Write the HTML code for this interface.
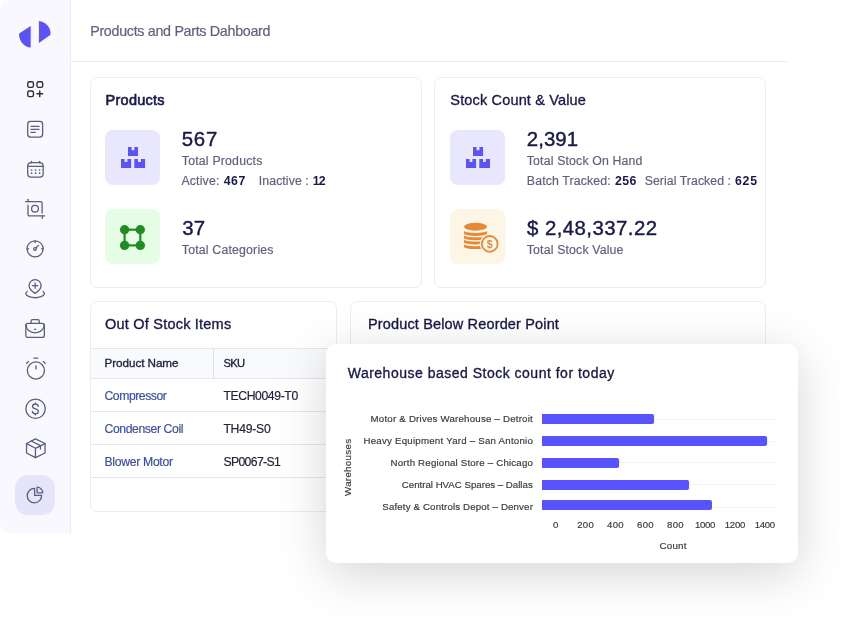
<!DOCTYPE html>
<html lang="en"><head><meta charset="utf-8"><title>Products and Parts Dashboard</title>
<style>
*{box-sizing:border-box;margin:0;padding:0}
html,body{width:862px;height:631px;background:#fff;overflow:hidden}
body{position:relative;font-family:'Liberation Sans',sans-serif}
#root{position:absolute;left:0;top:0;width:862px;height:631px;overflow:hidden;will-change:transform;background:#fff}
.t{position:absolute;white-space:pre;display:block}
.abs{position:absolute}
#side{left:0;top:0;width:71px;height:533px;background:#f9f8ff;border-right:1px solid #ececf1;border-radius:10px 0 0 9px}
#hline{left:71px;top:61px;width:716px;height:1px;background:#ebebee}
.card{border:1px solid #ededef;border-radius:7px;background:#fff}
.ib{border-radius:8px;width:55px;height:55px}
.row{left:91px;width:246px;height:1px;background:#e6e7ea}
#popup{left:326px;top:344px;width:472px;height:219px;background:#fff;border-radius:10px;box-shadow:0 11px 50px 0 rgba(0,0,0,.17)}
.bar{position:absolute;left:216px;height:10px;background:#5853fc;border-radius:0 2px 2px 0}
.gl{position:absolute;left:216px;width:234px;height:1px;background:#f4f4f1}
svg{position:absolute;overflow:visible}
</style></head><body>
<div id="root">
<div id="side" class="abs"></div>
<svg style="left:0;top:0" width="70" height="60" viewBox="0 0 70 60"><path d="M30.700 26.100V47.600A13 13 0 0 1 19.100 33.600z" fill="#5b52f8"/><path d="M38.900 20.900A13 13 0 0 1 50.500 34.800L38.900 42.900z" fill="#5b52f8"/></svg>
<div class="abs" style="left:15px;top:475px;width:40px;height:40px;border-radius:13px;background:#e5e5f9"></div>
<svg style="left:23px;top:78px" width="24" height="24" viewBox="0 0 24 24" fill="none" stroke="#2b2b33" stroke-width="1.4" stroke-linecap="round" stroke-linejoin="round"><rect x="4.75" y="3.8" width="5.7" height="5.6" rx="1.7"/><rect x="14" y="3.8" width="5.7" height="5.6" rx="1.7"/><rect x="4.75" y="13" width="5.7" height="5.6" rx="1.7"/><path d="M16.75 13v5.650M13.900 15.800h5.700"/></svg><svg style="left:23px;top:118px" width="24" height="24" viewBox="0 0 24 24" fill="none" stroke="#5a5e7e" stroke-width="1.3" stroke-linecap="round" stroke-linejoin="round"><rect x="4.7" y="3.45" width="14.9" height="15.7" rx="2.8"/><path d="M8 8.300h8.100M8 11.300h8.100M8 14.400h4.300"/></svg><svg style="left:23px;top:158px" width="24" height="24" viewBox="0 0 24 24" fill="none" stroke="#5a5e7e" stroke-width="1.3" stroke-linecap="round" stroke-linejoin="round"><rect x="4.7" y="4.55" width="15.45" height="14.5" rx="3.4"/><path d="M4.700 8.400h15.450M8.500 3.300v1.500M16.600 3.300v1.500"/><path d="M8.600 12h.01M12.600 12h.01M16.600 12h.01M8.600 15.200h.01M12.600 15.200h.01M16.600 15.200h.01" stroke-width="1.7"/></svg><svg style="left:23px;top:194px" width="24" height="24" viewBox="0 0 24 24" fill="none" stroke="#5a5e7e" stroke-width="1.3" stroke-linecap="round" stroke-linejoin="round"><path d="M2.600 7.600H17.600a1.500 1.500 0 0 1 1.500 1.500V19"/><path d="M5 5.300V7.600"/><path d="M5 11.200V20.400a1.500 1.500 0 0 0 1.500 1.500H21.600"/><path d="M19.250 21.900V24.300"/><circle cx="12" cy="14.800" r="3.400"/></svg><svg style="left:23px;top:237px" width="24" height="24" viewBox="0 0 24 24" fill="none" stroke="#5a5e7e" stroke-width="1.3" stroke-linecap="round" stroke-linejoin="round"><circle cx="12.100" cy="11.850" r="8.050"/><circle cx="12" cy="12" r="1.350"/><path d="M13.100 10.800l2.400-2.400M4 11.900h1.600M18.600 11.900h1.600M12.100 3.900v1.600"/></svg><svg style="left:23px;top:274px" width="24" height="24" viewBox="0 0 24 24" fill="none" stroke="#5a5e7e" stroke-width="1.3" stroke-linecap="round" stroke-linejoin="round"><path d="M12.100 19.400c-3.600-2.400-6-4.700-6-7.750a6 6 0 0 1 12 0c0 3.050-2.400 5.350-6 7.750z"/><path d="M9.400 11.650h5.400M12.100 8.950v5.400"/><path d="M4.100 17.400A9.300 4.100 0 1 0 20.100 17.400"/></svg><svg style="left:23px;top:314px" width="24" height="24" viewBox="0 0 24 24" fill="none" stroke="#5a5e7e" stroke-width="1.3" stroke-linecap="round" stroke-linejoin="round"><rect x="2.850" y="9.450" width="18.500" height="13.900" rx="2.200"/><path d="M8.050 9.450V7.150a1.500 1.500 0 0 1 1.500-1.500h5.200a1.500 1.500 0 0 1 1.500 1.500V9.450"/><path d="M3 10.800C3 15.500 7 18.900 12.100 18.900S21.200 15.500 21.200 10.800"/><path d="M11.500 15.450h1.200"/></svg><svg style="left:23px;top:354px" width="24" height="24" viewBox="0 0 24 24" fill="none" stroke="#5a5e7e" stroke-width="1.3" stroke-linecap="round" stroke-linejoin="round"><circle cx="12.900" cy="16.500" r="8.550"/><path d="M12.900 11.800v3.300M10.900 4.200h3.800M3.600 9.300l2-1.900M20.200 7.400l2 1.900"/></svg><svg style="left:23px;top:394px" width="24" height="24" viewBox="0 0 24 24" fill="none" stroke="#5a5e7e" stroke-width="1.3" stroke-linecap="round" stroke-linejoin="round"><circle cx="12.550" cy="14.750" r="9.700"/><path d="M15.300 12.300c-.3-1.500-1.500-2.300-2.850-2.300-1.700 0-2.900.9-2.900 2.400 0 1.400 1.100 2 2.900 2.400 1.900.4 2.900 1.100 2.900 2.600 0 1.500-1.300 2.400-2.900 2.400-1.600 0-2.800-.8-3.100-2.300M12.450 8.900v1.100M12.450 19.800v1.100"/></svg><svg style="left:23px;top:434px" width="24" height="24" viewBox="0 0 24 24" fill="none" stroke="#5a5e7e" stroke-width="1.3" stroke-linecap="round" stroke-linejoin="round"><path d="M12.450 4.950L22.050 9.500V19L12.450 23.600 3.550 19V9.500z"/><path d="M3.700 9.600l8.750 4.700 9.450-4.700M12.450 14.300v9.200M8.200 7l9.250 4.700V15"/></svg><svg style="left:23px;top:483px" width="24" height="24" viewBox="0 0 24 24" fill="none" stroke="#5a5e7e" stroke-width="1.3" stroke-linecap="round" stroke-linejoin="round"><path d="M11.600 5.400A7.200 7.200 0 1 0 18.600 12.400H11.600z"/><path d="M14.100 9.800V4.200A5.600 5.600 0 0 1 19.700 9.800z"/></svg>
<div id="hline" class="abs"></div>

<div class="abs card" style="left:90px;top:77px;width:332px;height:211px"></div>
<div class="abs card" style="left:434px;top:77px;width:332px;height:211px"></div>
<div class="abs card" style="left:90px;top:301px;width:247px;height:211px"></div>
<div class="abs card" style="left:350px;top:301px;width:416px;height:211px"></div>

<div class="abs ib" style="left:105px;top:130px;background:#e8e7fd"></div>
<div class="abs ib" style="left:105px;top:209px;background:#e6fde6"></div>
<div class="abs ib" style="left:450px;top:130px;background:#e8e7fd"></div>
<div class="abs ib" style="left:450px;top:209px;background:#fdf5e6"></div>
<svg style="left:121px;top:147px" width="24" height="22" viewBox="0 0 24 22" fill="#5b52f8"><path d="M7 0h3.600v3.300h2.800V0H17v9H7z"/><path d="M0 12h3.600v3h2.800v-3h3.700V21H0z"/><path d="M13.300 12h3.700v3h2.800v-3H24V21H13.300z"/></svg>
<svg style="left:466px;top:147px" width="24" height="22" viewBox="0 0 24 22" fill="#5b52f8"><path d="M7 0h3.600v3.300h2.800V0H17v9H7z"/><path d="M0 12h3.600v3h2.800v-3h3.700V21H0z"/><path d="M13.300 12h3.700v3h2.800v-3H24V21H13.300z"/></svg>
<svg style="left:119px;top:224px" width="27" height="27" viewBox="0 0 27 27"><rect x="5.600" y="5.700" width="15.700" height="15.700" fill="none" stroke="#1f8d1f" stroke-width="2.200"/><circle cx="5.600" cy="5.700" r="4.650" fill="#1f8d1f"/><circle cx="21.300" cy="5.700" r="4.650" fill="#1f8d1f"/><circle cx="5.600" cy="21.400" r="4.650" fill="#1f8d1f"/><circle cx="21.300" cy="21.400" r="4.650" fill="#1f8d1f"/></svg>
<svg style="left:463px;top:222px" width="38" height="32" viewBox="0 0 38 32">
<g fill="#e58a38">
<ellipse cx="12.500" cy="4.800" rx="11.500" ry="3.950"/>
<path d="M1 8.7A11.5 2.3 0 0 0 24 8.7V11.6A11.5 2.3 0 0 1 1 11.6z"/>
<path d="M1 13.0A11.5 2.3 0 0 0 24 13.0V15.9A11.5 2.3 0 0 1 1 15.9z"/>
<path d="M1 17.3A11.5 2.3 0 0 0 24 17.3V20.2A11.5 2.3 0 0 1 1 20.2z"/>
<path d="M1 21.9A11.5 2.3 0 0 0 24 21.9V24.8A11.5 2.3 0 0 1 1 24.8z"/>
</g>
<circle cx="26.700" cy="21.900" r="10" fill="#fdf5e6"/>
<circle cx="26.700" cy="21.900" r="7.900" fill="#fdf5e6" stroke="#e58a38" stroke-width="1.800"/>
<text x="26.700" y="25.600" text-anchor="middle" font-family="Liberation Sans, sans-serif" font-size="10.500" font-weight="700" fill="#e58a38">$</text>
</svg>

<div class="abs" style="left:91px;top:348px;width:246px;height:31px;background:#f8fafd;border-top:1px solid #e6e7ea;border-bottom:1px solid #e6e7ea"></div>
<div class="abs" style="left:213px;top:349px;width:1px;height:29px;background:#e0e1e5"></div>
<div class="abs row" style="top:411px"></div>
<div class="abs row" style="top:444px"></div>
<div class="abs row" style="top:477px"></div>

<span class="t" style="left:90.2px;top:24.00px;font:400 14.3px/1 'Liberation Sans', sans-serif;letter-spacing:-0.31px;color:#5f5f80;-webkit-text-stroke:.18px #5f5f80">Products and Parts Dahboard</span>
<span class="t" style="left:105.6px;top:93.00px;font:400 14.5px/1 'Liberation Sans', sans-serif;letter-spacing:0.24px;color:#18184a;-webkit-text-stroke:.6px #18184a">Products</span>
<span class="t" style="left:450.3px;top:93.00px;font:400 14.5px/1 'Liberation Sans', sans-serif;letter-spacing:0.16px;color:#18184a;-webkit-text-stroke:.33px #18184a">Stock Count &amp; Value</span>
<span class="t" style="left:181.8px;top:129.00px;font:400 20.4px/1 'Liberation Sans', sans-serif;letter-spacing:0.73px;color:#18184a;-webkit-text-stroke:.4px #18184a">567</span>
<span class="t" style="left:181.8px;top:155.00px;font:400 12.3px/1 'Liberation Sans', sans-serif;letter-spacing:0.20px;color:#5f5f80;-webkit-text-stroke:.18px #5f5f80">Total Products</span>
<span class="t" style="left:181.4px;top:175.00px;font:400 12.3px/1 'Liberation Sans', sans-serif;letter-spacing:0.17px;color:#5f5f80;-webkit-text-stroke:.18px #5f5f80">Active:</span>
<span class="t" style="left:223.8px;top:175.00px;font:700 12.3px/1 'Liberation Sans', sans-serif;letter-spacing:0.48px;color:#18184a">467</span>
<span class="t" style="left:258.8px;top:175.00px;font:400 12.3px/1 'Liberation Sans', sans-serif;letter-spacing:0.08px;color:#5f5f80;-webkit-text-stroke:.18px #5f5f80">Inactive :</span>
<span class="t" style="left:312.8px;top:175.00px;font:700 12.3px/1 'Liberation Sans', sans-serif;letter-spacing:-0.80px;color:#18184a">12</span>
<span class="t" style="left:182.2px;top:218.00px;font:400 20.4px/1 'Liberation Sans', sans-serif;letter-spacing:0.21px;color:#18184a;-webkit-text-stroke:.4px #18184a">37</span>
<span class="t" style="left:181.8px;top:244.00px;font:400 12.3px/1 'Liberation Sans', sans-serif;letter-spacing:0.19px;color:#5f5f80;-webkit-text-stroke:.18px #5f5f80">Total Categories</span>
<span class="t" style="left:526.8px;top:129.00px;font:400 20.4px/1 'Liberation Sans', sans-serif;letter-spacing:0.04px;color:#18184a;-webkit-text-stroke:.4px #18184a">2,391</span>
<span class="t" style="left:526.8px;top:155.00px;font:400 12.3px/1 'Liberation Sans', sans-serif;letter-spacing:0.16px;color:#5f5f80;-webkit-text-stroke:.18px #5f5f80">Total Stock On Hand</span>
<span class="t" style="left:526.8px;top:175.00px;font:400 12.3px/1 'Liberation Sans', sans-serif;letter-spacing:0.15px;color:#5f5f80;-webkit-text-stroke:.18px #5f5f80">Batch Tracked:</span>
<span class="t" style="left:615.0px;top:175.00px;font:700 12.3px/1 'Liberation Sans', sans-serif;letter-spacing:0.43px;color:#18184a">256</span>
<span class="t" style="left:644.7px;top:175.00px;font:400 12.3px/1 'Liberation Sans', sans-serif;letter-spacing:0.06px;color:#5f5f80;-webkit-text-stroke:.18px #5f5f80">Serial Tracked :</span>
<span class="t" style="left:735.0px;top:175.00px;font:700 12.3px/1 'Liberation Sans', sans-serif;letter-spacing:0.73px;color:#18184a">625</span>
<span class="t" style="left:527.0px;top:218.00px;font:400 20.4px/1 'Liberation Sans', sans-serif;letter-spacing:0.44px;color:#18184a;-webkit-text-stroke:.4px #18184a">$ 2,48,337.22</span>
<span class="t" style="left:526.8px;top:244.00px;font:400 12.3px/1 'Liberation Sans', sans-serif;letter-spacing:0.16px;color:#5f5f80;-webkit-text-stroke:.18px #5f5f80">Total Stock Value</span>
<span class="t" style="left:105.1px;top:317.00px;font:400 14.5px/1 'Liberation Sans', sans-serif;letter-spacing:0.21px;color:#18184a;-webkit-text-stroke:.33px #18184a">Out Of Stock Items</span>
<span class="t" style="left:368.0px;top:317.00px;font:400 14.5px/1 'Liberation Sans', sans-serif;letter-spacing:0.15px;color:#18184a;-webkit-text-stroke:.33px #18184a">Product Below Reorder Point</span>
<span class="t" style="left:104.5px;top:357.00px;font:400 11.7px/1 'Liberation Sans', sans-serif;letter-spacing:-0.06px;color:#1f1f3f;-webkit-text-stroke:.33px #1f1f3f">Product Name</span>
<span class="t" style="left:223.4px;top:358.00px;font:400 11.2px/1 'Liberation Sans', sans-serif;letter-spacing:-0.61px;color:#1f1f3f;-webkit-text-stroke:.33px #1f1f3f">SKU</span>
<span class="t" style="left:104.5px;top:390.00px;font:400 12.2px/1 'Liberation Sans', sans-serif;letter-spacing:-0.44px;color:#3d4fa3;-webkit-text-stroke:.18px #3d4fa3">Compressor</span>
<span class="t" style="left:223.4px;top:390.00px;font:400 12.2px/1 'Liberation Sans', sans-serif;letter-spacing:-0.38px;color:#23233f;-webkit-text-stroke:.18px #23233f">TECH0049-T0</span>
<span class="t" style="left:104.5px;top:423.00px;font:400 12.2px/1 'Liberation Sans', sans-serif;letter-spacing:-0.39px;color:#3d4fa3;-webkit-text-stroke:.18px #3d4fa3">Condenser Coil</span>
<span class="t" style="left:223.4px;top:423.00px;font:400 12.2px/1 'Liberation Sans', sans-serif;letter-spacing:-0.25px;color:#23233f;-webkit-text-stroke:.18px #23233f">TH49-S0</span>
<span class="t" style="left:104.5px;top:456.00px;font:400 12.2px/1 'Liberation Sans', sans-serif;letter-spacing:-0.30px;color:#3d4fa3;-webkit-text-stroke:.18px #3d4fa3">Blower Motor</span>
<span class="t" style="left:223.4px;top:456.00px;font:400 12.2px/1 'Liberation Sans', sans-serif;letter-spacing:-0.62px;color:#23233f;-webkit-text-stroke:.18px #23233f">SP0067-S1</span>

<div id="popup" class="abs">
<div class="gl" style="top:74.5px"></div><div class="gl" style="top:96.5px"></div><div class="gl" style="top:118px"></div><div class="gl" style="top:139.5px"></div><div class="gl" style="top:163px"></div>
<div class="bar" style="top:70px;width:112px"></div><div class="bar" style="top:92px;width:225px"></div><div class="bar" style="top:114px;width:77px"></div><div class="bar" style="top:136px;width:147px"></div><div class="bar" style="top:156px;width:170px"></div>
<span class="t" style="left:21.7px;top:22.00px;font:400 14px/1 'Liberation Sans', sans-serif;letter-spacing:0.50px;color:#18184a;-webkit-text-stroke:.33px #18184a">Warehouse based Stock count for today</span>
<span class="t" style="left:44.6px;top:70.00px;font:400 9.7px/1 'Liberation Sans', sans-serif;letter-spacing:0.21px;color:#373d3f;-webkit-text-stroke:.18px #373d3f">Motor &amp; Drives Warehouse – Detroit</span>
<span class="t" style="left:37.5px;top:92.00px;font:400 9.7px/1 'Liberation Sans', sans-serif;letter-spacing:0.23px;color:#373d3f;-webkit-text-stroke:.18px #373d3f">Heavy Equipment Yard – San Antonio</span>
<span class="t" style="left:64.6px;top:114.00px;font:400 9.7px/1 'Liberation Sans', sans-serif;letter-spacing:0.19px;color:#373d3f;-webkit-text-stroke:.18px #373d3f">North Regional Store – Chicago</span>
<span class="t" style="left:75.8px;top:136.00px;font:400 9.7px/1 'Liberation Sans', sans-serif;letter-spacing:-0.01px;color:#373d3f;-webkit-text-stroke:.18px #373d3f">Central HVAC Spares – Dallas</span>
<span class="t" style="left:56.3px;top:158.00px;font:400 9.7px/1 'Liberation Sans', sans-serif;letter-spacing:0.15px;color:#373d3f;-webkit-text-stroke:.18px #373d3f">Safety &amp; Controls Depot – Denver</span>
<span class="t" style="left:227.0px;top:176.00px;font:400 9.6px/1 'Liberation Sans', sans-serif;letter-spacing:0.00px;color:#373d3f;-webkit-text-stroke:.18px #373d3f">0</span>
<span class="t" style="left:251.2px;top:176.00px;font:400 9.6px/1 'Liberation Sans', sans-serif;letter-spacing:0.29px;color:#373d3f;-webkit-text-stroke:.18px #373d3f">200</span>
<span class="t" style="left:281.1px;top:176.00px;font:400 9.6px/1 'Liberation Sans', sans-serif;letter-spacing:0.29px;color:#373d3f;-webkit-text-stroke:.18px #373d3f">400</span>
<span class="t" style="left:311.0px;top:176.00px;font:400 9.6px/1 'Liberation Sans', sans-serif;letter-spacing:0.29px;color:#373d3f;-webkit-text-stroke:.18px #373d3f">600</span>
<span class="t" style="left:341.0px;top:176.00px;font:400 9.6px/1 'Liberation Sans', sans-serif;letter-spacing:0.29px;color:#373d3f;-webkit-text-stroke:.18px #373d3f">800</span>
<span class="t" style="left:368.9px;top:176.00px;font:400 9.6px/1 'Liberation Sans', sans-serif;letter-spacing:-0.28px;color:#373d3f;-webkit-text-stroke:.18px #373d3f">1000</span>
<span class="t" style="left:398.8px;top:176.00px;font:400 9.6px/1 'Liberation Sans', sans-serif;letter-spacing:-0.28px;color:#373d3f;-webkit-text-stroke:.18px #373d3f">1200</span>
<span class="t" style="left:428.7px;top:176.00px;font:400 9.6px/1 'Liberation Sans', sans-serif;letter-spacing:-0.28px;color:#373d3f;-webkit-text-stroke:.18px #373d3f">1400</span>
<span class="t" style="left:333.5px;top:197.00px;font:400 9.8px/1 'Liberation Sans', sans-serif;letter-spacing:0.21px;color:#373d3f;-webkit-text-stroke:.18px #373d3f">Count</span>
<span class="t" style="left:22px;top:122px;width:0;height:0"><span style="position:absolute;white-space:pre;transform:rotate(-90deg);transform-origin:0 0;left:-4.600px;top:29.900px;font:400 9.800px/1 'Liberation Sans',sans-serif;color:#373d3f;letter-spacing:.27px;-webkit-text-stroke:.18px #373d3f">Warehouses</span></span>
</div>
</div>
</body></html>
